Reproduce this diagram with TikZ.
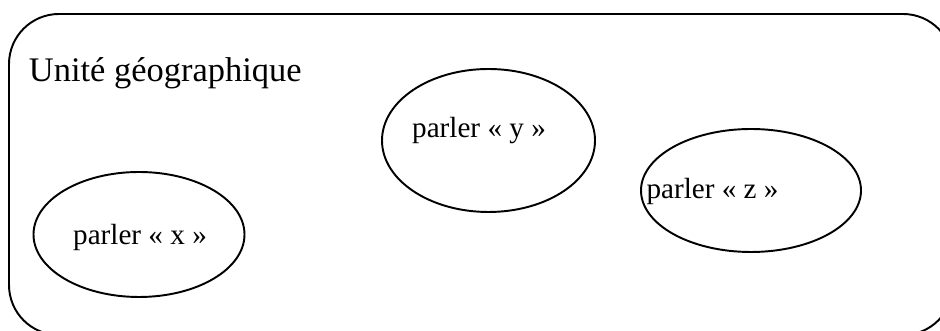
\documentclass[tikz,border=0pt]{standalone}
\usepackage{fontspec}
\setmainfont{Liberation Serif}
\usetikzlibrary{shapes.geometric}
\tikzset{
  parler/.style={draw,ellipse,line width=1.1pt,inner sep=0pt},
  etiquette/.style={anchor=base,inner sep=0pt,font=\fontsize{16.6}{19}\selectfont},
}
\begin{document}
\begin{tikzpicture}[line width=1.1pt]
	      \useasboundingbox (0,0) rectangle (18.8,6.62);
	      \clip (0,0) rectangle (18.8,6.62);
	      \draw[rounded corners=1cm] (0.18,-0.08) rectangle (19.06,6.34);
	      \node[anchor=base west,inner sep=0pt,font=\fontsize{19.6}{23}\selectfont] (titre) at (0.56,4.98) {Unité géographique};
	      % les trois parlers
	      \node[parler,minimum width=4.22cm,minimum height=2.5cm] (px) at (2.78,1.93) {};
	      \node[parler,minimum width=4.26cm,minimum height=2.86cm] (py) at (9.77,3.81) {};
	      \node[parler,minimum width=4.4cm,minimum height=2.46cm] (pz) at (15.02,2.81) {};
	      \node[etiquette] (tx) at (2.8,1.72) {parler « x »};
	      \node[etiquette] (ty) at (9.58,3.86) {parler « y »};
	      \node[etiquette] (tz) at (14.25,2.64) {parler « z »};
\end{tikzpicture}
\end{document}
